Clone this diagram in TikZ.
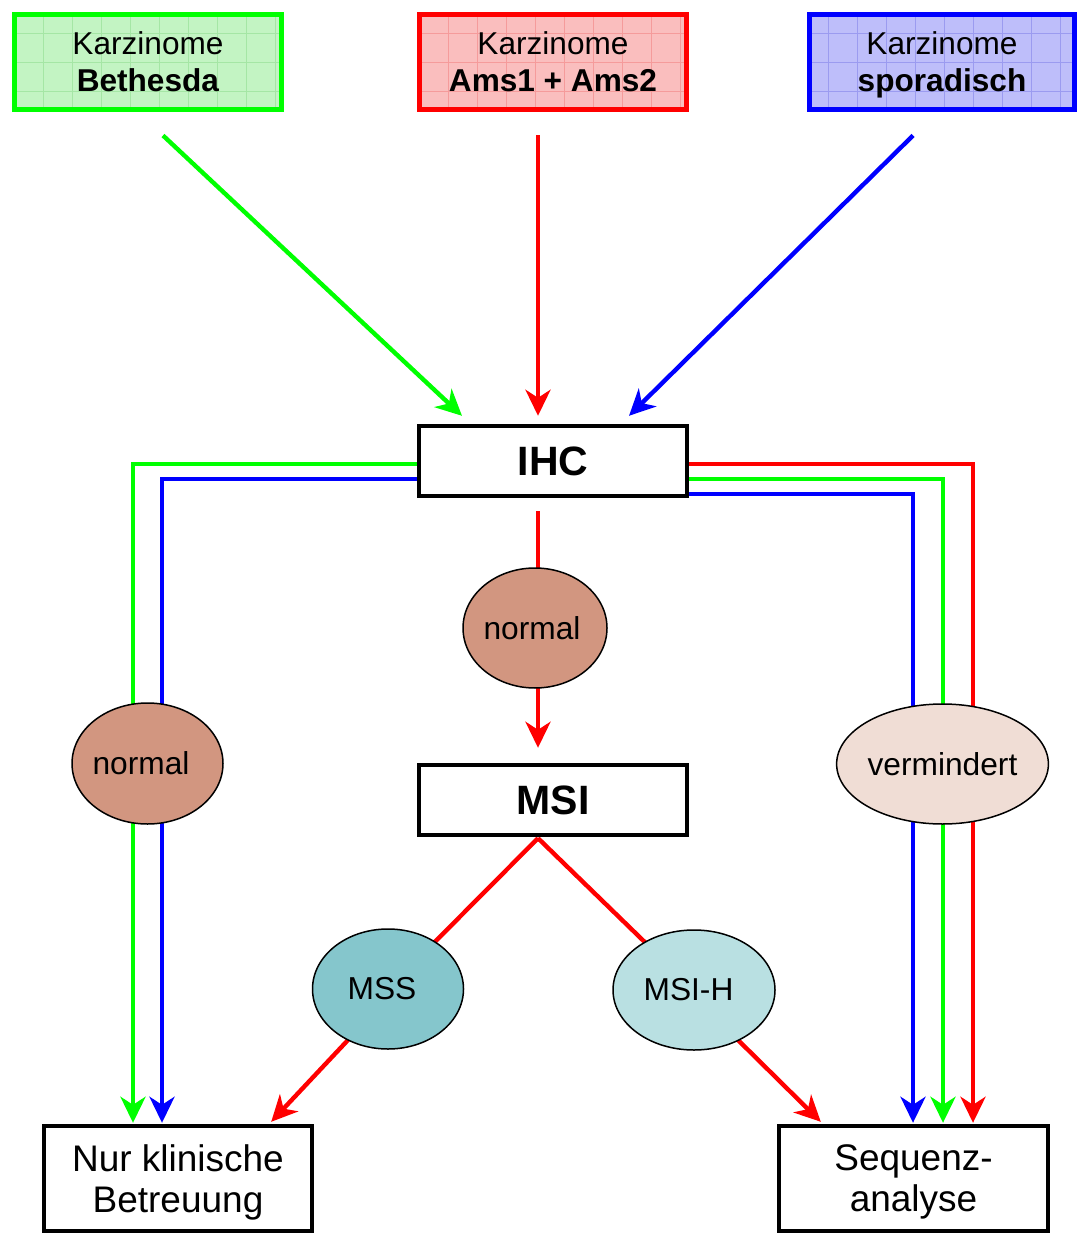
\documentclass[tikz,border=0pt]{standalone}
\usepackage{fontspec}
\setmainfont{Liberation Sans}
\usetikzlibrary{arrows.meta,calc,shapes.geometric}
\pgfdeclarelayer{background}
\pgfsetlayers{background,main}
\definecolor{gG}{RGB}{0,255,0}
\definecolor{rR}{RGB}{255,0,0}
\definecolor{bB}{RGB}{0,0,255}
\definecolor{gfill}{RGB}{195,244,195}
\definecolor{ggrid}{RGB}{165,230,165}
\definecolor{rfill}{RGB}{250,190,190}
\definecolor{rgrid}{RGB}{245,155,155}
\definecolor{bfill}{RGB}{190,190,250}
\definecolor{bgrid}{RGB}{155,155,240}
\definecolor{normc}{RGB}{210,150,128}
\definecolor{vermc}{RGB}{240,221,213}
\definecolor{mssc}{RGB}{133,198,204}
\definecolor{msihc}{RGB}{185,224,226}
\begin{document}
\begin{tikzpicture}[x=0.5pt,y=-0.5pt,
  topbox/.style={line width=2.5pt, minimum width=133.5pt, minimum height=47.5pt,
    inner sep=0pt, align=center, font=\fontsize{15.8}{18.5}\selectfont},
  gridpic/.style={path picture={\draw[#1,line width=0.5pt]
    (path picture bounding box.south west) grid[step=14.5pt]
    (path picture bounding box.north east);}},
  bbox/.style={draw, line width=2.2pt, fill=white, minimum width=134pt,
    minimum height=35pt, inner sep=0pt, font=\bfseries\fontsize{20.5}{24}\selectfont},
  botbox/.style={draw, line width=2.2pt, fill=white, minimum width=134pt,
    minimum height=52.5pt, inner sep=0pt, align=center, font=\fontsize{18.5}{20.5}\selectfont},
  ell/.style={ellipse, draw=black, line width=0.75pt, inner sep=0pt,
    font=\fontsize{15.85}{19}\selectfont},
  cline/.style={line width=2.2pt},
  arr/.style={cline, -{Stealth[length=13pt,width=12.5pt,inset=4pt]}}
]
\useasboundingbox (0,0) rectangle (1079,1234);
% top boxes
\node[topbox, draw=gG, fill=gfill, gridpic=ggrid] (beth) at (148,62) {Karzinome\\\textbf{Bethesda}};
\node[topbox, draw=rR, fill=rfill, gridpic=rgrid] (ams) at (553,62) {Karzinome\\\textbf{Ams1 + Ams2}};
\node[topbox, draw=bB, fill=bfill, gridpic=bgrid, minimum width=132.5pt] (spor) at (942,62) {Karzinome\\\smash{\textbf{sporadisch}}};
% main boxes
\node[bbox] (ihc) at (553,461) {IHC};
\node[bbox] (msi) at (553,800) {MSI};
\node[botbox] (nur) at (178,1178.5) {Nur klinische\\\smash{Betreuung}};
\node[botbox, minimum width=134.5pt] (seq) at (913.5,1178.5) {Sequenz-\\\smash{analyse}};
% ellipses
\node[ell, fill=normc, minimum width=72pt, minimum height=60pt] (norm1) at (535,628) {\hspace*{-3pt}normal};
\node[ell, fill=normc, minimum width=75.5pt, minimum height=60.5pt] (normL) at (147.5,763.5) {\hspace*{-6.5pt}normal};
\node[ell, fill=vermc, minimum width=96.5pt, minimum height=60pt] (verm) at (942.5,764) {vermindert};
\node[ell, fill=mssc, minimum width=75.5pt, minimum height=60pt] (mss) at (388,989) {\hspace*{-6pt}MSS};
\node[ell, fill=msihc, minimum width=81pt, minimum height=60pt] (msih) at (694,990) {\hspace*{-5.5pt}MSI-H};
% connectors
\begin{pgfonlayer}{background}
  % top arrows
  \draw[arr, gG] ($(beth.south)+(15,23.5)$) -- ($(ihc.north)+(-91,-8)$);
  \draw[arr, rR] ($(ams.south)+(-15,23.5)$) -- ($(ihc.north)+(-15,-8)$);
  \draw[arr, bB] ($(spor.south)+(-29,23.5)$) -- ($(ihc.north)+(76,-8)$);
  % left branch
  \draw[arr, gG] ($(ihc.west)+(0,3)$) -| ($(nur.north)+(-45,-1)$);
  \draw[arr, bB] ($(ihc.west)+(0,18)$) -| ($(nur.north)+(-16,-1)$);
  % right branch
  \draw[arr, rR] ($(ihc.east)+(0,3)$) -| ($(seq.north)+(59.5,-1)$);
  \draw[arr, gG] ($(ihc.east)+(0,18)$) -| ($(seq.north)+(29.5,-1)$);
  \draw[arr, bB] ($(ihc.east)+(0,33)$) -| ($(seq.north)+(-0.5,-1)$);
  % middle
  \draw[cline, rR] ($(ihc.south)+(-15,13)$) -- ($(norm1.center)+(3,0)$);
  \draw[arr, rR] ($(norm1.center)+(3,0)$) -- ($(msi.north)+(-15,-15)$);
  \coordinate (msiv) at ($(msi.south)+(-15,1)$);
  \draw[cline, rR] (msiv) -- (mss.center);
  \draw[cline, rR] (msiv) -- (msih.center);
  \draw[arr, rR] ($(mss.center)+(-40,51)$) -- ($(nur.north east)+(-43,-2)$);
  \draw[arr, rR] ($(msih.center)+(44,50)$) -- ($(seq.north west)+(44,-2)$);
\end{pgfonlayer}
\end{tikzpicture}
\end{document}
